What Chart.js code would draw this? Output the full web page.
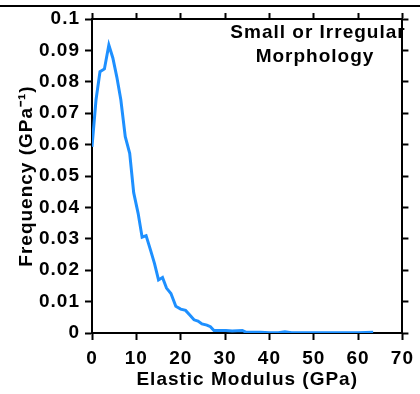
<!DOCTYPE html>
<html>
<head>
<meta charset="utf-8">
<script src="https://cdn.jsdelivr.net/npm/chart.js@4"></script>
<style>
  body { margin: 0; background: #fff; }
  canvas { display: block; }
</style>
</head>
<body>
<canvas id="chart" width="420" height="394"></canvas>
<script>
// modulus values (GPa)
const modulus = [0, 0.9, 1.8, 2.8, 3.8, 4.7, 5.6, 6.5, 7.5, 8.5, 9.4, 10.4, 11.3, 12.2, 13.2,
  14.1, 15.0, 15.9, 16.8, 17.8, 18.9, 20.0, 21.1, 22.0, 23.0, 23.9, 24.8, 25.9, 26.7, 27.5,
  28.7, 30.2, 31.6, 32.8, 33.9, 34.8, 36, 38, 40, 42, 43.5, 45, 48, 52, 56, 60, 63.4];
// frequency (1/GPa)
const frequency = [0.0593, 0.0742, 0.0832, 0.0841, 0.0917, 0.0876, 0.0815, 0.0743, 0.0625, 0.0572,
  0.0447, 0.0381, 0.0305, 0.0310, 0.0264, 0.0221, 0.0169, 0.0177, 0.0143, 0.0126, 0.0085,
  0.0076, 0.0072, 0.0058, 0.0042, 0.0038, 0.0029, 0.0025, 0.0020, 0.0008, 0.0008, 0.0008,
  0.0006, 0.0007, 0.0008, 0.0002, 0.0002, 0.0002, 0.0001, 0.0001, 0.0004, 0.0001, 0.0001,
  0.0001, 0.0001, 0.0001, 0.0002];
const xTicks = [0, 10, 20, 30, 40, 50, 60, 70];
const yTicks = [0, 0.01, 0.02, 0.03, 0.04, 0.05, 0.06, 0.07, 0.08, 0.09, 0.1];
const noteLines = ['Small or Irregular', 'Morphology'];

const font = { family: 'Liberation Sans', weight: 'bold', size: 19 };
const black = '#000';

// canvas text in the figure is a bit wider than Arial, add spacing
const spacing = {
  id: 'spacing',
  beforeDraw(chart) { chart.ctx.letterSpacing = '1px'; }
};

const extras = {
  id: 'extras',
  afterDraw(chart) {
    const ctx = chart.ctx;
    ctx.save();
    ctx.fillStyle = black;
    ctx.fillRect(0, 5, 420, 2);
    ctx.font = 'bold 19px "Liberation Sans"';
    ctx.textAlign = 'center';
    ctx.textBaseline = 'middle';
    ctx.fillText(noteLines[0], 318, 33);
    ctx.fillText(noteLines[1], 315, 57);
    ctx.restore();
  }
};

const gridOpts = (len) => ({
  drawOnChartArea: false, tickLength: len, tickWidth: 2, tickColor: black
});

new Chart('chart', {
  type: 'line',
  data: {
    datasets: [{
      data: modulus.map((m, i) => ({ x: m, y: frequency[i] })),
      borderColor: 'rgb(30, 144, 255)',
      borderWidth: 3,
      pointRadius: 0,
      tension: 0,
      fill: false
    }]
  },
  options: {
    responsive: false,
    animation: false,
    devicePixelRatio: 1,
    layout: { padding: 0 },
    plugins: { legend: { display: false }, tooltip: { enabled: false } },
    scales: {
      x: {
        type: 'linear', position: 'bottom', min: 0, max: 70,
        afterBuildTicks: s => { s.ticks = xTicks.map(v => ({ value: v })); },
        ticks: { color: black, font, padding: 7, maxRotation: 0 },
        grid: gridOpts(7),
        border: { color: black, width: 2 },
        title: { display: true, text: 'Elastic Modulus (GPa)', color: black, font, padding: { top: 0, bottom: 3 } },
        afterFit: s => { s.height = 61; }
      },
      x2: {
        type: 'linear', axis: 'x', position: 'top', min: 0, max: 70,
        afterBuildTicks: s => { s.ticks = xTicks.map(v => ({ value: v })); },
        ticks: { display: false },
        grid: gridOpts(6),
        border: { color: black, width: 2 },
        afterFit: s => { s.height = 19; }
      },
      y: {
        type: 'linear', position: 'left', min: 0, max: 0.1,
        afterBuildTicks: s => { s.ticks = yTicks.map(v => ({ value: v })); },
        ticks: { color: black, font, padding: 5, callback: v => String(v) },
        grid: gridOpts(7),
        border: { color: black, width: 2 },
        title: { display: true, text: 'Frequency (GPa\u207B\u00B9)', color: black, font, padding: { top: 15, bottom: 0 } },
        afterFit: s => { s.width = 92; }
      },
      y2: {
        type: 'linear', axis: 'y', position: 'right', min: 0, max: 0.1,
        afterBuildTicks: s => { s.ticks = yTicks.map(v => ({ value: v })); },
        ticks: { display: false },
        grid: gridOpts(6),
        border: { color: black, width: 2 },
        afterFit: s => { s.width = 13; }
      }
    }
  },
  plugins: [spacing, extras]
});
</script>
</body>
</html>
